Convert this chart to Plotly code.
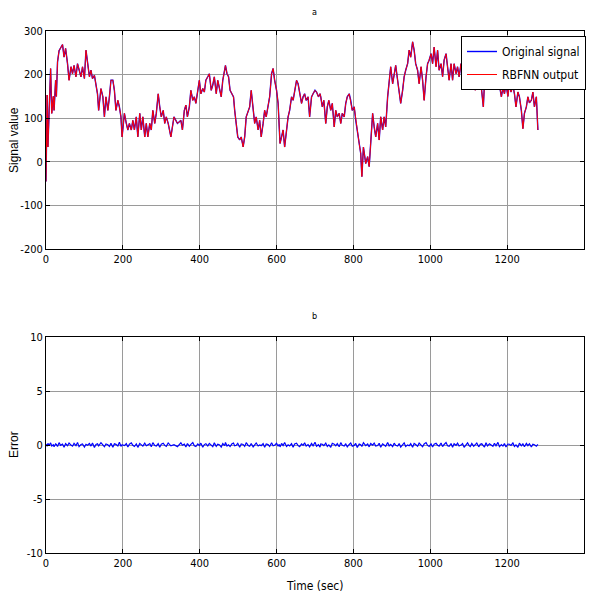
import plotly.graph_objects as go

# ---- data ----
time_sec = [
    0, 3, 5, 8, 12, 15, 19, 21, 25, 27,
    30, 34, 38, 43, 47, 51, 56, 60, 65, 69,
    73, 78, 82, 86, 91, 95, 100, 104, 108, 113,
    117, 121, 126, 130, 134, 137, 143, 148, 152, 156,
    161, 165, 169, 174, 178, 182, 187, 191, 195, 198,
    204, 209, 213, 217, 222, 226, 230, 235, 239, 244,
    248, 252, 257, 261, 265, 270, 274, 278, 283, 287,
    292, 296, 300, 305, 309, 313, 318, 325, 333, 342,
    351, 355, 360, 364, 368, 373, 377, 382, 386, 390,
    395, 399, 403, 408, 412, 416, 421, 425, 430, 434,
    438, 443, 447, 451, 456, 460, 465, 467, 471, 475,
    479, 484, 488, 491, 495, 499, 504, 508, 513, 517,
    521, 526, 530, 534, 539, 543, 547, 552, 556, 560,
    565, 569, 573, 578, 582, 587, 591, 595, 600, 604,
    607, 609, 613, 617, 621, 626, 630, 634, 639, 643,
    647, 652, 656, 660, 665, 669, 673, 677, 682, 686,
    691, 695, 700, 704, 709, 713, 715, 719, 723, 728,
    732, 736, 741, 745, 750, 754, 758, 763, 767, 771,
    776, 780, 784, 789, 793, 797, 802, 806, 810, 815,
    819, 822, 826, 832, 837, 841, 845, 850, 854, 858,
    863, 867, 871, 876, 880, 884, 889, 893, 897, 902,
    906, 910, 915, 919, 923, 928, 932, 936, 941, 945,
    949, 954, 958, 962, 967, 971, 976, 980, 984, 989,
    993, 997, 1002, 1006, 1010, 1015, 1019, 1023, 1028, 1032,
    1036, 1041, 1045, 1049, 1054, 1058, 1062, 1067, 1071, 1075,
    1080, 1084, 1088, 1093, 1097, 1101, 1104, 1108, 1113, 1117,
    1121, 1126, 1130, 1134, 1138, 1141, 1145, 1149, 1154, 1158,
    1163, 1167, 1171, 1176, 1180, 1185, 1189, 1193, 1197, 1202,
    1206, 1210, 1215, 1219, 1223, 1228, 1232, 1237, 1241, 1245,
    1250, 1254, 1258, 1263, 1267, 1271, 1276, 1280,
]

original_signal = [
    -45, 153, 34, 140, 214, 111, 150, 118, 187, 150,
    229, 255, 262, 269, 240, 260, 225, 187, 218, 202,
    221, 195, 225, 210, 195, 218, 191, 256, 225, 195,
    210, 191, 198, 172, 156, 118, 168, 149, 103, 149,
    118, 149, 187, 187, 164, 118, 141, 126, 103, 57,
    111, 88, 73, 88, 73, 95, 73, 103, 57, 111,
    73, 103, 57, 88, 57, 88, 73, 118, 88, 111,
    156, 126, 103, 118, 88, 103, 88, 57, 103, 88,
    95, 73, 118, 130, 103, 126, 164, 141, 149, 134,
    164, 187, 156, 168, 160, 187, 195, 202, 164, 176,
    195, 156, 187, 172, 149, 187, 218, 221, 202, 195,
    164, 156, 149, 118, 80, 57, 50, 57, 34, 57,
    103, 118, 126, 164, 111, 88, 103, 73, 95, 57,
    88, 118, 103, 126, 149, 202, 214, 187, 164, 134,
    88, 42, 57, 73, 34, 73, 103, 118, 149, 141,
    164, 187, 179, 156, 134, 149, 156, 141, 149, 103,
    149, 156, 164, 160, 149, 156, 149, 126, 141, 88,
    126, 141, 118, 134, 80, 118, 103, 111, 88, 111,
    103, 134, 149, 156, 141, 118, 126, 95, 73, 42,
    19, -34, 34, -4, 12, -11, 42, 111, 80, 57,
    88, 50, 103, 73, 103, 80, 149, 179, 218, 179,
    202, 221, 187, 156, 134, 164, 195, 210, 225, 256,
    240, 275, 256, 225, 210, 179, 218, 187, 141, 195,
    225, 233, 248, 225, 263, 218, 256, 210, 225, 195,
    233, 248, 210, 187, 225, 187, 225, 202, 218, 195,
    225, 202, 218, 195, 240, 263, 271, 256, 202, 164,
    202, 179, 195, 164, 126, 179, 202, 218, 195, 225,
    190, 210, 180, 205, 175, 149, 170, 156, 180, 150,
    185, 160, 175, 156, 126, 160, 149, 118, 76, 111,
    126, 149, 135, 141, 160, 126, 149, 73,
]

# error in hundredths
error_centi = [
    8, -12, 15, -5, 20, -9, 3, -17, 11, 6,
    -14, 22, -3, 9, -20, 13, -7, 18, -1, -11,
    16, -6, 24, -15, 4, 10, -19, 7, -2, 14,
    -10, 19, -23, 5, 12, -8, 21, -4, -16, 9,
    2, -13, 17, -21, 11, 6, -9, 25, -12, 3,
    -6, 14, -18, 8, 20, -3, -14, 10, -22, 15,
    5, -10, 18, -7, 1, 13, -17, 22, -5, -9,
    12, -20, 7, 16, -4, -13, 19, -8, 3, -15,
    21, -2, 9, -18, 14, -11, 6, 23, -7, -14,
    10, -5, 17, -21, 4, 12, -9, 15, -1, -16,
    20, -12, 8, 3, -19, 13, -6, 24, -10, 2,
    -15, 11, 18, -8, -3, 16, -20, 9, 5, -13,
    22, -4, -11, 14, -17, 7, 19, -9, 1, -6,
    13, -22, 10, 4, -14, 21, -7, -2, 16, -11,
    6, -18, 15, -5, 23, -13, 2, -9, 12, -20,
    9, 17, -6, -15, 11, -3, 20, -10, 4, -17,
    14, -8, 25, -12, 3, -19, 10, 7, -5, 18,
    -14, 1, -21, 16, 8, -7, 13, -16, 22, -3,
    -9, 12, -18, 5, 19, -11, -4, 15, -23, 10,
    3, -13, 21, -6, 9, -17, 14, -2, 18, -10,
    -5, 16, -20, 11, 2, -12, 24, -8, 6, -15,
    17, -3, -9, 13, -19, 8, 20, -14, 1, -7,
    12, -21, 15, 4, -11, 18, -6, -16, 9, 22,
    -4, -13, 10, -18, 7, 16, -2, -10, 19, -15,
    5, 23, -8, -12, 14, -20, 11, -3, 17, -9,
    -1, 13, -22, 8, 20, -6, -14, 15, -11, 4,
    18, -17, 6, 11, -5, -19, 21, -9, 12, -2,
    -12, 16, -7, 24, -15, 3, -10, 14, -18, 9,
    7, -4, 19, -13, 1, -21, 17, -8, 10, -16,
    15, -6, 12, -19, 8, 3, -11, 6,
]

error = [e / 100.0 for e in error_centi]
rbfnn_output = [o - e for o, e in zip(original_signal, error)]

x_ticks = [0, 200, 400, 600, 800, 1000, 1200, 1400]
top_y_ticks = [-200, -100, 0, 100, 200, 300]
bottom_y_ticks = [-10, -5, 0, 5, 10]

# ---- figure (page body has an 8px margin) ----
OFF = 8
W, H = 596 - OFF, 595 - OFF
ML, MR, MT, MB = 46 - OFF, W - (584 - OFF), 31 - OFF, H - (553 - OFF)
ph = H - MT - MB
pw = W - ML - MR


def py(y_px):
    return (H - MB - (y_px - OFF)) / ph


def px(x_px):
    return ((x_px - OFF) - ML) / pw


def lab(v):
    return str(v)


TICKF = "DejaVu Sans Condensed, Liberation Sans Narrow, Liberation Sans, Arial"
REG = "Liberation Sans, Arial"

fig = go.Figure()
fig.add_trace(go.Scatter(x=time_sec, y=original_signal, mode="lines",
                         line=dict(color="#0000ff", width=1.4),
                         name="Original signal", legendgroup="g1",
                         xaxis="x", yaxis="y"))
fig.add_trace(go.Scatter(x=time_sec, y=rbfnn_output, mode="lines",
                         line=dict(color="#ff0000", width=1.0),
                         name="RBFNN output", legendgroup="g2",
                         xaxis="x", yaxis="y"))
fig.add_trace(go.Scatter(x=time_sec, y=error, mode="lines",
                         line=dict(color="#0000ff", width=1.2),
                         showlegend=False, xaxis="x2", yaxis="y2"))

axis_common = dict(showline=True, linecolor="black", linewidth=1, mirror="ticks",
                   ticks="inside", ticklen=4, tickcolor="black",
                   showgrid=True, gridcolor="#9a9a9a", gridwidth=1,
                   zeroline=False, automargin=False,
                   tickfont=dict(family=TICKF, size=11, color="black"))

fig.update_layout(
    width=W, height=H,
    margin=dict(l=ML, r=MR, t=MT, b=MB, autoexpand=False),
    paper_bgcolor="white", plot_bgcolor="white",
    xaxis=dict(domain=[0, 1], range=[0, 1400], tickvals=x_ticks,
               ticktext=[lab(v) for v in x_ticks], anchor="y", **axis_common),
    yaxis=dict(domain=[py(249), 1.0], range=[-200, 300], tickvals=top_y_ticks,
               ticktext=[lab(v) for v in top_y_ticks], anchor="x", **axis_common),
    xaxis2=dict(domain=[0, 1], range=[0, 1400], tickvals=x_ticks,
                ticktext=[lab(v) for v in x_ticks], anchor="y2", **axis_common),
    yaxis2=dict(domain=[0, py(337)], range=[-10, 10], tickvals=bottom_y_ticks,
                ticktext=[lab(v) for v in bottom_y_ticks], anchor="x2", **axis_common),
    legend=dict(x=px(586), xanchor="right", y=py(36), yanchor="top",
                bgcolor="white", bordercolor="black", borderwidth=1,
                font=dict(family=TICKF, size=12, color="black"),
                itemwidth=30, tracegroupgap=4),
    showlegend=True,
)

fig.add_annotation(text="a", x=px(314), y=py(12), xref="paper", yref="paper",
                   yanchor="middle", showarrow=False,
                   font=dict(family=TICKF, size=9, color="black"))
fig.add_annotation(text="b", x=px(314), y=py(316), xref="paper", yref="paper",
                   yanchor="middle", showarrow=False,
                   font=dict(family=TICKF, size=9, color="black"))
fig.add_annotation(text="Signal value", x=px(14), y=py(140), xref="paper", yref="paper",
                   xanchor="center", yanchor="middle", textangle=-90, showarrow=False,
                   font=dict(family=REG, size=12, color="black"))
fig.add_annotation(text="Error", x=px(14), y=py(445), xref="paper", yref="paper",
                   xanchor="center", yanchor="middle", textangle=-90, showarrow=False,
                   font=dict(family=REG, size=12, color="black"))
fig.add_annotation(text="Time (sec)", x=px(314), y=py(586), xref="paper", yref="paper",
                   yanchor="middle", showarrow=False,
                   font=dict(family=TICKF, size=12, color="black"))

fig.write_html("out.html")
